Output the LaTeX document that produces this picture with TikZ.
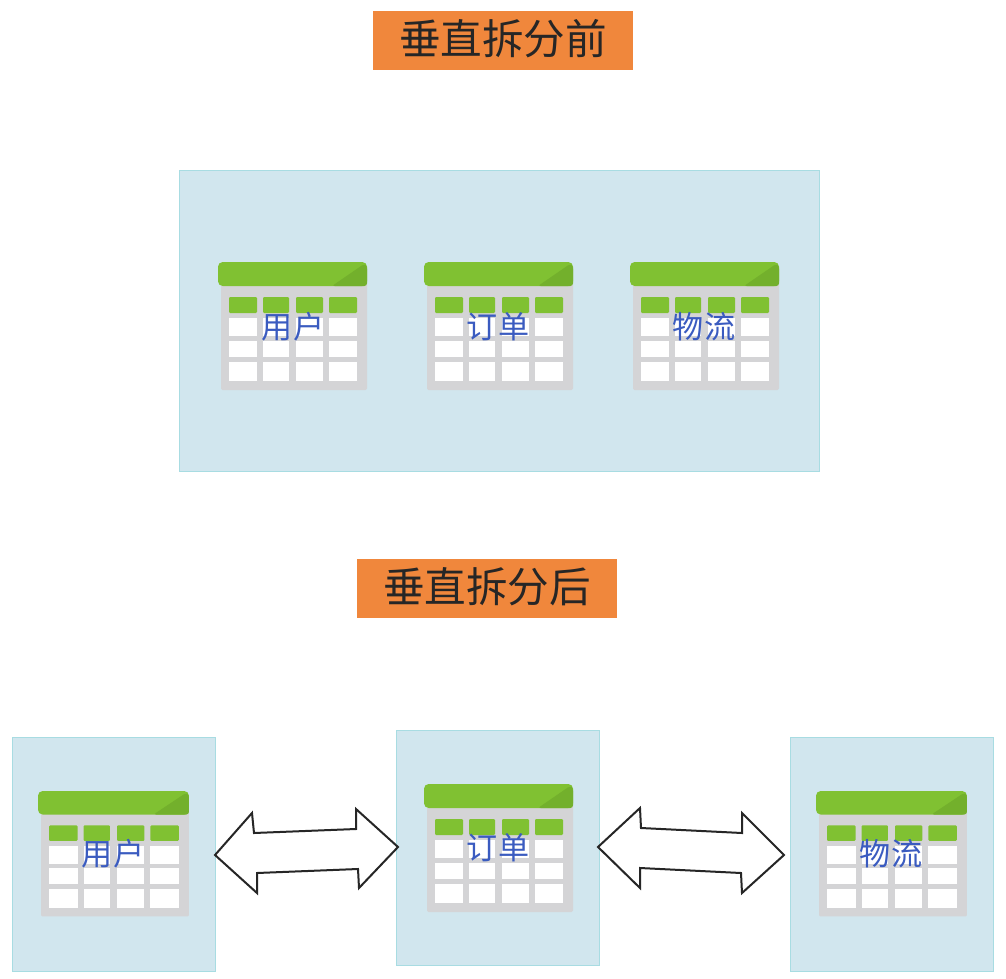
\documentclass[tikz,border=0pt]{standalone}
\usepackage{fontspec}
\newfontfamily\cjk{Noto Sans CJK SC}
\definecolor{panelfill}{HTML}{D1E6EE}
\definecolor{paneledge}{HTML}{A8DCE2}
\definecolor{orangefill}{HTML}{F0873C}
\definecolor{hdrgreen}{HTML}{80C132}
\definecolor{hdrdark}{HTML}{73B02C}
\definecolor{tablegray}{HTML}{D4D4D6}
\definecolor{labelblue}{HTML}{3A5BC0}
\tikzset{
  panel/.style={draw=paneledge,line width=0.7pt,fill=panelfill},
  titlebox/.style={fill=orangefill,minimum width=195pt,minimum height=44.5pt,inner sep=0pt,font=\cjk\fontsize{31.2}{33}\selectfont,text=black!85},
  tablelabel/.style={font=\cjk\fontsize{23.3}{25}\selectfont,text=labelblue,inner sep=0pt},
  blockarrow/.style={draw=black!85,line width=1.5pt,fill=white,line join=miter},
  cellw/.style={fill=white},
  cellg/.style={fill=hdrgreen,rounded corners=0.8pt},
  pics/dbtable/.style={code={
    \fill[tablegray,rounded corners=1pt] (3,20) rectangle (149,128);
    \fill[hdrgreen,rounded corners=3.5pt] (0,0) rectangle (149,24);
    \fill[hdrdark,rounded corners=2pt] (114,24) -- (146,2) -- (149,4) -- (149,24) -- cycle;
    \foreach \xa/\xb in {11/39,45/71,78/105,111/139}{
      \fill[cellg] (\xa,35) rectangle (\xb,51);
      \fill[cellw] (\xa,56) rectangle (\xb,74);
      \fill[cellw] (\xa,79) rectangle (\xb,95);
      \fill[cellw] (\xa,100) rectangle (\xb,119);
    }
  }}
}
\begin{document}
\begin{tikzpicture}[x=0.75pt,y=-0.75pt]
\useasboundingbox (0,0) rectangle (1006,978);
\fill[white] (0,0) rectangle (1006,978);

\node[titlebox] (before) at (503,40.5) {\raisebox{6pt}{垂直拆分前}};
\node[titlebox] (after) at (487,588.5) {\raisebox{5pt}{垂直拆分后}};

\draw[panel] (179,170) rectangle (819,471);
\draw[panel] (12,737) rectangle (215,971);
\draw[panel] (396,730) rectangle (599,965);
\draw[panel] (790,737) rectangle (993,971);

\pic at (218,262) {dbtable};
\pic at (424,262) {dbtable};
\pic at (630,262) {dbtable};
\pic[xscale=1.013,yscale=0.98] at (38,791) {dbtable};
\pic at (424,784) {dbtable};
\pic[xscale=1.013,yscale=0.98] at (816,791) {dbtable};

\node[tablelabel] (t1) at (293,327) {用户};
\node[tablelabel] (t2) at (498,327) {订单};
\node[tablelabel] (t3) at (704,327) {物流};
\node[tablelabel] (b1) at (113,854) {用户};
\node[tablelabel] (b2) at (498,848) {订单};
\node[tablelabel] (b3) at (891,854) {物流};

\draw[blockarrow] (215,855) -- (252,813) -- (254,833) -- (356,829) -- (356,809) -- (398,847) -- (359,888) -- (358,869) -- (257,873) -- (257,893) -- cycle;
\draw[blockarrow] (598,847) -- (640,808) -- (641,828) -- (742,833) -- (742,813) -- (784,855) -- (742,893) -- (741,873) -- (640,868) -- (640,888) -- cycle;
\end{tikzpicture}
\end{document}
